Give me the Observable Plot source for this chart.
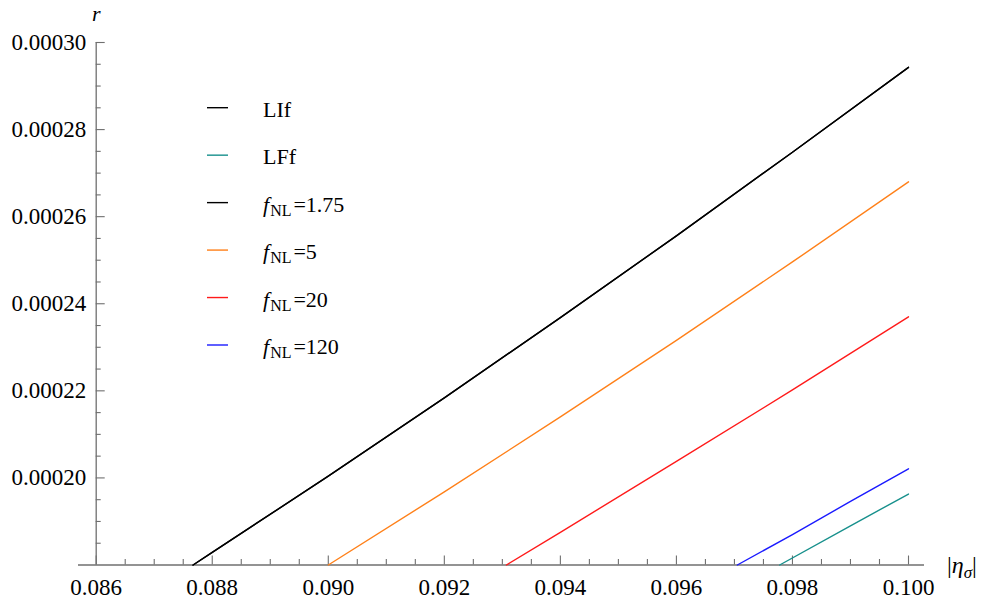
<!DOCTYPE html>
<html><head><meta charset="utf-8">
<script src="https://cdn.jsdelivr.net/npm/d3@7"></script>
<script src="https://cdn.jsdelivr.net/npm/@observablehq/plot@0.6"></script>
<style>
body{margin:0;background:#fff}
svg{display:block}
svg text{font-family:"Liberation Serif","Times New Roman",serif !important}
</style>
</head><body><div id="chart"></div>
<script>
// ---- data ----
const xDomain = [0.086, 0.100];
const yDomain = [0.00018, 0.00030];
const xTicks = [0.086, 0.088, 0.090, 0.092, 0.094, 0.096, 0.098, 0.100];
const xTickLabels = ["0.086", "0.088", "0.090", "0.092", "0.094", "0.096", "0.098", "0.100"];
const yTicks = [0.00020, 0.00022, 0.00024, 0.00026, 0.00028, 0.00030];
const yTickLabels = ["0.00020", "0.00022", "0.00024", "0.00026", "0.00028", "0.00030"];

const etaLIf = [0.08767, 0.088, 0.090, 0.092, 0.094, 0.096, 0.098, 0.100];
const rLIf   = [0.000180, 0.0001829, 0.0002004, 0.0002184, 0.0002368, 0.0002556, 0.0002748, 0.0002943];
const etaF175 = [0.08767, 0.088, 0.090, 0.092, 0.094, 0.096, 0.098, 0.100];
const rF175   = [0.000180, 0.0001829, 0.0002004, 0.0002184, 0.0002368, 0.0002556, 0.0002748, 0.0002943];
const etaF5 = [0.0900, 0.092, 0.094, 0.096, 0.098, 0.100];
const rF5   = [0.000180, 0.0001968, 0.0002140, 0.0002316, 0.0002496, 0.0002680];
const etaF20 = [0.09307, 0.094, 0.096, 0.098, 0.100];
const rF20   = [0.000180, 0.0001875, 0.0002038, 0.0002202, 0.0002370];
const etaF120 = [0.09705, 0.098, 0.099, 0.100];
const rF120   = [0.000180, 0.0001870, 0.0001946, 0.0002021];
const etaLFf = [0.09778, 0.099, 0.100];
const rLFf   = [0.000180, 0.0001890, 0.0001963];

const legendNames = ["LIf", "LFf", "1.75", "5", "20", "120"];
const legendColors = ["#000000", "#17908c", "#000000", "#ff8019", "#ff1a1a", "#1a1aff"];

// ---- build ----
const series = [
  {x: etaLFf, y: rLFf, c: legendColors[1]},
  {x: etaF120, y: rF120, c: legendColors[5]},
  {x: etaF20, y: rF20, c: legendColors[4]},
  {x: etaF5, y: rF5, c: legendColors[3]},
  {x: etaF175, y: rF175, c: legendColors[2]},
  {x: etaLIf, y: rLIf, c: legendColors[0]}
];
const pts = s => s.x.map((v, i) => ({x: v, y: s.y[i]}));

const xMinor = d3.range(0, 29).map(i => xDomain[0] + i * 0.0005).filter((v, i) => i % 4 !== 0);
const yMinor = d3.range(0, 25).map(i => yDomain[0] + i * 0.000005).filter((v, i) => i % 4 !== 0);

const axisColor = "#6f6f6f";
const serif = "Liberation Serif";

const plot = Plot.plot({
  width: 988,
  height: 602,
  marginLeft: 95.7,
  marginRight: 80,
  marginTop: 42,
  marginBottom: 37.5,
  x: {domain: xDomain, axis: null},
  y: {domain: yDomain, axis: null},
  style: {fontFamily: serif, background: "#fff"},
  marks: [
    Plot.ruleY([yDomain[0]], {stroke: axisColor, strokeWidth: 1.6, insetLeft: -17.7, insetRight: -16}),
    Plot.ruleX([xDomain[0]], {stroke: axisColor, strokeWidth: 1.3}),
    Plot.ruleX(xTicks, {x: d => d, y1: yDomain[0], y2: yDomain[0], insetTop: -9, stroke: axisColor, strokeWidth: 1.1}),
    Plot.ruleX(xMinor, {x: d => d, y1: yDomain[0], y2: yDomain[0], insetTop: -5.5, stroke: axisColor, strokeWidth: 1.1}),
    Plot.ruleY(yTicks, {y: d => d, x1: xDomain[0], x2: xDomain[0], insetRight: -9, stroke: axisColor, strokeWidth: 1.1}),
    Plot.ruleY(yMinor, {y: d => d, x1: xDomain[0], x2: xDomain[0], insetRight: -5, stroke: axisColor, strokeWidth: 1.1}),
    Plot.text(xTicks, {x: d => d, y: yDomain[0], text: (d, i) => xTickLabels[i], dy: 23, lineAnchor: "middle", fontSize: 23, fill: "#000"}),
    Plot.text(yTicks, {x: xDomain[0], y: d => d, text: (d, i) => yTickLabels[i], dx: -10, textAnchor: "end", lineAnchor: "middle", fontSize: 23, fill: "#000"}),
    Plot.text(["r"], {x: xDomain[0], y: yDomain[1], text: d => d, dy: -22, lineAnchor: "bottom", fontSize: 22, fontStyle: "italic", fill: "#000"}),
    ...series.map(s => Plot.line(pts(s), {x: "x", y: "y", stroke: s.c, strokeWidth: 1.4}))
  ]
});

document.getElementById("chart").appendChild(plot);

const svg = d3.select(plot);
const X = plot.scale("x"), Y = plot.scale("y");

// x axis label |η_σ|
const xl = svg.append("text")
  .attr("x", X.apply(xDomain[1]) + 39)
  .attr("y", Y.apply(yDomain[0]) + 8)
  .attr("text-anchor", "start")
  .attr("font-size", 24)
  .attr("fill", "#000");
xl.append("tspan").text("|");
xl.append("tspan").attr("font-style", "italic").text("η");
xl.append("tspan").attr("font-style", "italic").attr("font-size", 17).attr("dy", 5).text("σ");
xl.append("tspan").attr("dy", -5).text("|");

// legend
const lg = svg.append("g").attr("font-size", 22).attr("fill", "#000").attr("text-anchor", "start");
legendNames.forEach((name, i) => {
  const yy = 107.7 + i * 47.46;
  lg.append("line").attr("x1", 207).attr("x2", 228).attr("y1", yy).attr("y2", yy)
    .attr("stroke", legendColors[i]).attr("stroke-width", 1.4);
  const t = lg.append("text").attr("x", 263).attr("y", yy + 9).attr("text-anchor", "start");
  if (i < 2) {
    t.text(name);
  } else {
    t.append("tspan").attr("font-style", "italic").text("f");
    t.append("tspan").attr("font-size", 16).attr("dy", 4).attr("dx", 1).text("NL");
    t.append("tspan").attr("dy", -4).attr("dx", 2).text("=" + name);
  }
});
</script>
</body></html>
